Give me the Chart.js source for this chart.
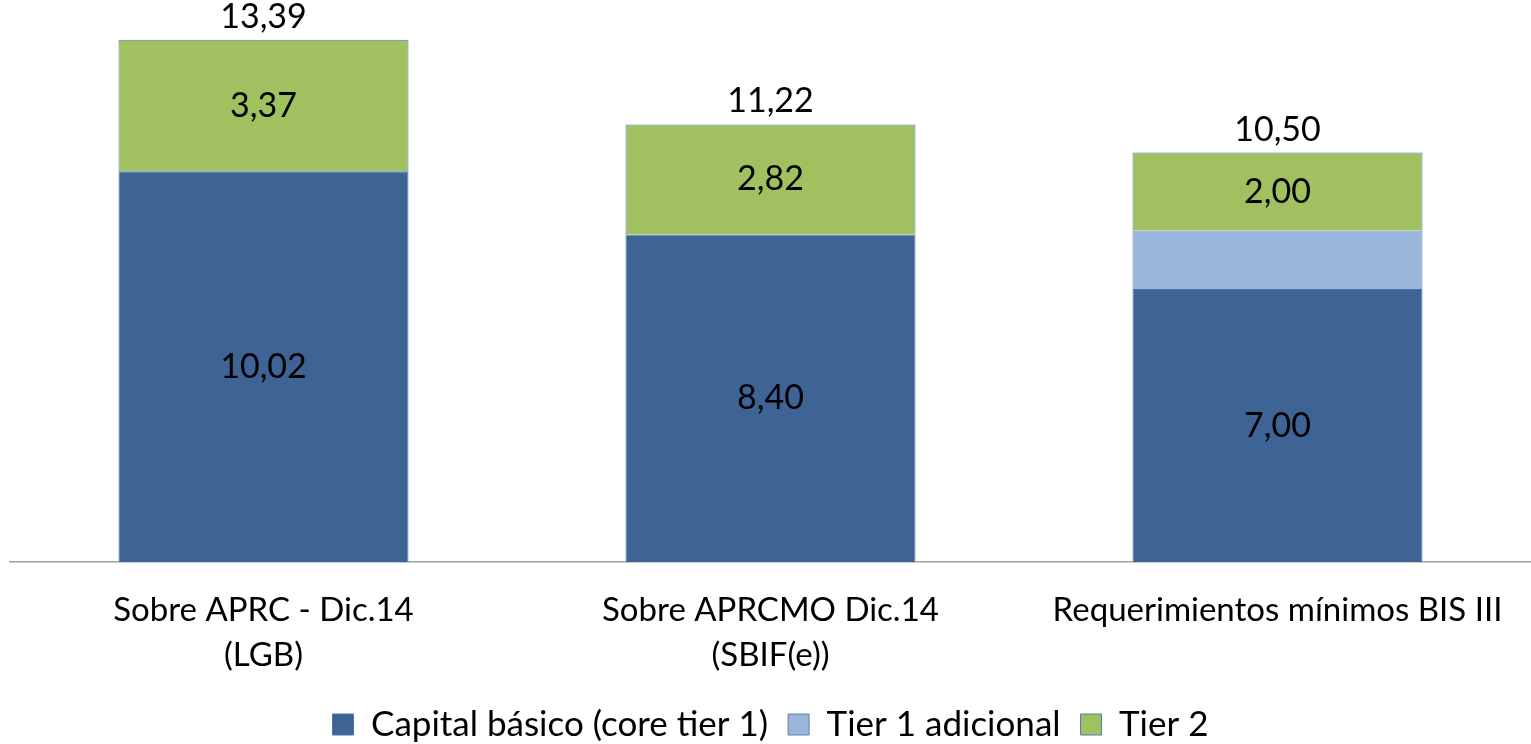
<!DOCTYPE html>
<html>
<head>
<meta charset="utf-8">
<script src="https://cdn.jsdelivr.net/npm/chart.js@4.4.1/dist/chart.umd.min.js"></script>
<style>
  html, body { margin: 0; padding: 0; background: #fff; }
  #wrap { width: 1531px; height: 744px; }
</style>
</head>
<body>
<div id="wrap"><canvas id="capChart"></canvas></div>
<script>
const categories = [
    ["Sobre APRC - Dic.14", "(LGB)"],
    ["Sobre APRCMO Dic.14", "(SBIF(e))"],
    ["Requerimientos mínimos BIS III"]
];
const coreTier1 = [10.02, 8.40, 7.00];
const tier1Adicional = [0, 0, 1.50];
const tier2 = [3.37, 2.82, 2.00];

const FONT = "Lato, 'Open Sans', sans-serif";

function fmt(v){
    return v.toFixed(2).replace('.', ',');
}

// values in the middle of the segments + total above each bar
const labelPlugin = {

    id: 'barLabels',

    afterDatasetsDraw(chart){

        const ctx = chart.ctx;
        ctx.save();
        ctx.font = "34px " + FONT;
        ctx.fillStyle = "#000";
        ctx.textAlign = "center";

        chart.data.datasets.forEach((ds, i) => {
            if(!ds.showValues) return;
            chart.getDatasetMeta(i).data.forEach((bar, j) => {
                if(!ds.data[j]) return;
                ctx.textBaseline = "middle";
                ctx.fillText(fmt(ds.data[j]), bar.x, (bar.y + bar.base) / 2);
            });
        });

        const yScale = chart.scales.y;
        const last = chart.getDatasetMeta(chart.data.datasets.length - 1);
        last.data.forEach((bar, j) => {
            const total = coreTier1[j] + tier1Adicional[j] + tier2[j];
            ctx.textBaseline = "alphabetic";
            ctx.fillText(fmt(total), bar.x, yScale.getPixelForValue(total) - 12);
        });

        ctx.restore();
    }
};

new Chart(document.getElementById('capChart'), {

    type: 'bar',

    data: {
        labels: categories,
        datasets: [
            {
                label: "Capital básico (core tier 1)",
                data: coreTier1,
                backgroundColor: "#3d6495",
                borderColor: "#4a74a8",
                borderWidth: 1,
                showValues: true
            },
            {
                label: "Tier 1 adicional",
                data: tier1Adicional,
                backgroundColor: "#9ab6da",
                borderColor: "#5a82b4",
                borderWidth: 1,
                showValues: false
            },
            {
                label: "Tier 2",
                data: tier2,
                backgroundColor: "#a1c060",
                borderColor: "#4f7db5",
                borderWidth: 1,
                showValues: true
            }
        ]
    },

    plugins: [labelPlugin],

    options: {

        responsive: true,
        maintainAspectRatio: false,
        animation: false,
        devicePixelRatio: 1,

        layout: {
            padding: { top: 16, left: 10, right: 0, bottom: -8 }
        },

        datasets: {
            bar: {
                categoryPercentage: 1,
                barPercentage: 0.572
            }
        },

        plugins: {
            legend: {
                position: 'bottom',
                labels: {
                    color: "#000",
                    font: { family: FONT, size: 35 },
                    boxWidth: 21,
                    boxHeight: 21,
                    padding: 20
                }
            },
            tooltip: { enabled: false }
        },

        scales: {
            x: {
                stacked: true,
                grid: { display: false },
                border: { display: true, color: "#a0a0a0", width: 1.5 },
                ticks: {
                    color: "#000",
                    font: { family: FONT, size: 33, lineHeight: 1.36 },
                    padding: 18,
                    maxRotation: 0,
                    autoSkip: false
                },
                afterFit(scale){
                    scale.height -= 9;
                }
            },
            y: {
                stacked: true,
                display: false,
                min: 0,
                max: 14
            }
        }
    }
});
</script>
</body>
</html>
